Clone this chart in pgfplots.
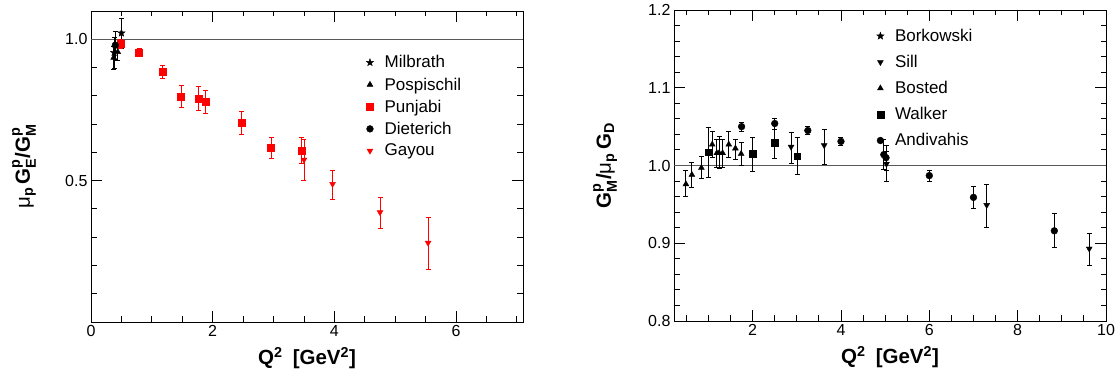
\documentclass[border=0pt]{standalone}
\usepackage{fontspec}
\setmainfont{Liberation Sans}
\usepackage{amsmath}
\usepackage{pgfplots}
\pgfplotsset{compat=1.18}

\pgfdeclareplotmark{fstar}{%
  \pgfpathmoveto{\pgfpointpolar{90}{\pgfplotmarksize}}%
  \pgfpathlineto{\pgfpointpolar{126}{0.42\pgfplotmarksize}}%
  \pgfpathlineto{\pgfpointpolar{162}{\pgfplotmarksize}}%
  \pgfpathlineto{\pgfpointpolar{198}{0.42\pgfplotmarksize}}%
  \pgfpathlineto{\pgfpointpolar{234}{\pgfplotmarksize}}%
  \pgfpathlineto{\pgfpointpolar{270}{0.42\pgfplotmarksize}}%
  \pgfpathlineto{\pgfpointpolar{306}{\pgfplotmarksize}}%
  \pgfpathlineto{\pgfpointpolar{342}{0.42\pgfplotmarksize}}%
  \pgfpathlineto{\pgfpointpolar{18}{\pgfplotmarksize}}%
  \pgfpathlineto{\pgfpointpolar{54}{0.42\pgfplotmarksize}}%
  \pgfpathclose
  \pgfusepathqfillstroke
}

\pgfplotsset{
  rootax/.style={
    scale only axis, width=432pt, height=311pt, anchor=south west,
    axis line style={line width=0.9pt},
    tick align=inside,
    major tick length=11pt, minor tick length=5.5pt,
    every tick/.style={black, line width=0.9pt},
    tick label style={font=\fontsize{16}{19}\selectfont},
    /pgf/number format/assume math mode=true,
    yticklabel style={/pgf/number format/.cd, fixed, fixed zerofill, precision=1},
    label style={font=\fontsize{20.5}{24}\selectfont\bfseries},
    xlabel style={at={(rel axis cs:0.5,0)}, anchor=center, yshift=-36pt},
    legend style={draw=none, fill=none, font=\fontsize{17}{19}\selectfont,
      /tikz/every odd column/.append style={column sep=9pt}},
    legend cell align=left,
    error bars/error bar style={line width=0.9pt},
    error bars/error mark options={rotate=90, mark size=2.5pt, line width=0.9pt},
    clip=false,
  },
  blk/.style={only marks, black, mark options={fill=black, draw=black},
    error bars/y dir=both, error bars/y explicit},
  rd/.style={only marks, red, mark options={fill=red, draw=red},
    error bars/y dir=both, error bars/y explicit},
}

\begin{document}
\begin{tikzpicture}
\useasboundingbox (0,0) rectangle (1120pt,374pt);

% ---------------- left panel ----------------
\begin{axis}[rootax, at={(91pt,52pt)},
  xmin=0, xmax=7.1, ymin=0, ymax=1.1,
  xtick={0,2,4,6}, minor xtick={0.5,1,1.5,2.5,3,3.5,4.5,5,5.5,6.5,7},
  ytick={0.5,1.0}, minor ytick={0.1,0.2,0.3,0.4,0.6,0.7,0.8,0.9,1.1},
  xlabel={Q$^{\textbf{2}}$\enspace[GeV$^{\textbf{2}}$]},
  ylabel={{\mdseries μ}$_{\textbf{p}}$\,G$^{\textbf{p}}_{\textbf{E}}$/G$^{\textbf{p}}_{\textbf{M}}$},
  ylabel style={at={(rel axis cs:0,0.5)}, anchor=center, yshift=67pt},
  legend style={at={(0.63,0.87)}, anchor=north west, row sep=4.3pt},
]
\addplot[black!65, line width=1.2pt, forget plot] coordinates {(0,1) (7.1,1)};

\addplot[blk, mark=fstar, mark size=3.8pt] table[x=x, y=y, y error plus=ep, y error minus=em] {
x y ep em
0.38 0.953 0.055 0.057
0.50 1.022 0.053 0.055
};
\addlegendentry{Milbrath}

\addplot[blk, mark=triangle*, mark size=3.4pt] table[x=x, y=y, y error plus=ep, y error minus=em] {
x y ep em
0.373 0.935 0.040 0.040
0.44 0.955 0.030 0.030
};
\addlegendentry{Pospischil}

\addplot[rd, mark=square*, mark size=3.5pt] table[x=x, y=y, y error plus=ep, y error minus=em] {
x y ep em
0.49 0.983 0.016 0.016
0.79 0.953 0.013 0.013
1.18 0.884 0.023 0.023
1.48 0.798 0.039 0.039
1.77 0.790 0.043 0.043
1.88 0.779 0.041 0.041
2.47 0.704 0.040 0.040
2.96 0.615 0.037 0.037
3.46 0.607 0.045 0.045
};
\addlegendentry{Punjabi}

\addplot[blk, mark=*, mark size=3.4pt] table[x=x, y=y, y error plus=ep, y error minus=em] {
x y ep em
0.40 0.979 0.050 0.050
};
\addlegendentry{Dieterich}

\addplot[rd, mark=triangle*, mark size=3.4pt, mark options={rotate=180}] table[x=x, y=y, y error plus=ep, y error minus=em] {
x y ep em
3.50 0.574 0.071 0.074
3.97 0.488 0.048 0.056
4.75 0.388 0.051 0.057
5.54 0.280 0.090 0.094
};
\addlegendentry{Gayou}
\end{axis}

% ---------------- right panel ----------------
\begin{axis}[rootax, at={(674pt,53pt)},
  xmin=0.22, xmax=10, ymin=0.8, ymax=1.2,
  xtick={2,4,6,8,10}, minor xtick={0.5,1,1.5,2.5,3,3.5,4.5,5,5.5,6.5,7,7.5,8.5,9,9.5},
  ytick={0.8,0.9,1.0,1.1,1.2},
  minor ytick={0.82,0.84,0.86,0.88,0.92,0.94,0.96,0.98,1.02,1.04,1.06,1.08,1.12,1.14,1.16,1.18},
  xlabel={Q$^{\textbf{2}}$\enspace[GeV$^{\textbf{2}}$]},
  ylabel={G$^{\textbf{p}}_{\textbf{M}}$/{\mdseries μ}$_{\textbf{p}}$\,G$_{\textbf{D}}$},
  ylabel style={at={(rel axis cs:0,0.5)}, anchor=center, yshift=69pt},
  legend style={at={(0.462,0.952)}, anchor=north west, row sep=8.3pt},
]
\addplot[black!65, line width=1.2pt, forget plot] coordinates {(0.22,1) (10,1)};

\addlegendimage{only marks, black, mark=fstar, mark size=3.8pt, mark options={fill=black}}
\addlegendentry{Borkowski}

\addplot[blk, mark=triangle*, mark size=3.4pt, mark options={rotate=180}] table[x=x, y=y, y error plus=ep, y error minus=em] {
x y ep em
2.87 1.024 0.018 0.021
3.62 1.026 0.021 0.025
5.03 1.002 0.016 0.023
7.30 0.949 0.026 0.029
9.62 0.893 0.019 0.022
};
\addlegendentry{Sill}

\addplot[blk, mark=triangle*, mark size=3.4pt] table[x=x, y=y, y error plus=ep, y error minus=em] {
x y ep em
0.49 0.976 0.018 0.016
0.625 0.988 0.016 0.016
0.84 0.997 0.015 0.014
1.085 1.027 0.017 0.017
1.19 1.016 0.018 0.018
1.24 1.016 0.021 0.020
1.32 1.016 0.017 0.018
1.46 1.027 0.017 0.017
1.61 1.022 0.012 0.014
1.74 1.015 0.015 0.015
};
\addlegendentry{Bosted}

\addplot[blk, mark=square*, mark size=3.4pt] table[x=x, y=y, y error plus=ep, y error minus=em] {
x y ep em
1.00 1.017 0.032 0.033
2.00 1.015 0.021 0.023
2.50 1.029 0.025 0.020
3.01 1.012 0.024 0.024
};
\addlegendentry{Walker}

\addplot[blk, mark=*, mark size=3.4pt] table[x=x, y=y, y error plus=ep, y error minus=em] {
x y ep em
1.75 1.050 0.006 0.006
2.50 1.054 0.007 0.007
3.25 1.045 0.005 0.005
4.00 1.031 0.005 0.005
4.97 1.014 0.019 0.019
5.02 1.010 0.016 0.016
6.00 0.987 0.007 0.008
7.00 0.959 0.014 0.014
8.83 0.916 0.022 0.022
};
\addlegendentry{Andivahis}
\end{axis}
\end{tikzpicture}
\end{document}
